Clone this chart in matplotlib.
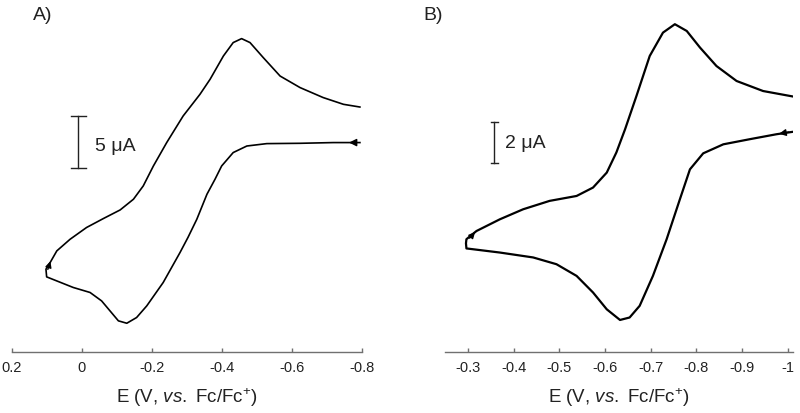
import matplotlib
matplotlib.use("Agg")
import matplotlib.pyplot as plt

plt.rcParams['font.family'] = ['Liberation Sans', 'DejaVu Sans']
plt.rcParams['axes.unicode_minus'] = False
plt.rcParams['mathtext.fontset'] = 'custom'
plt.rcParams['mathtext.rm'] = 'Liberation Sans'
plt.rcParams['mathtext.it'] = 'Liberation Sans:italic'

# panel A: potential (V vs Fc/Fc+) and current (uA, arbitrary offset)
# lower branch from the right end, then the upper branch back to the right
E_a = [-0.794, -0.718, -0.623, -0.528, -0.471, -0.432, -0.399, -0.380, -0.357, -0.328,
       -0.303, -0.280, -0.232, -0.185, -0.156, -0.128, -0.104, -0.080, -0.056, -0.023,
       0.025, 0.072, 0.101, 0.103,
       0.091, 0.072, 0.034, -0.013, -0.061, -0.109, -0.147, -0.175, -0.204, -0.242,
       -0.289, -0.337, -0.366, -0.404, -0.432, -0.456, -0.480, -0.518, -0.566, -0.623,
       -0.689, -0.747, -0.794]
I_a = [10.26, 10.26, 10.19, 10.16, 9.93, 9.30, 8.01, 6.73, 5.29, 2.88,
       1.15, -0.32, -3.20, -5.45, -6.57, -7.12, -6.89, -5.93, -4.97, -4.16,
       -3.68, -3.05, -2.66, -1.92,
       -1.28, -0.16, 0.96, 2.09, 2.95, 3.78, 4.81, 6.09, 8.01, 10.26,
       12.82, 14.90, 16.35, 18.59, 19.88, 20.26, 19.88, 18.43, 16.66, 15.55,
       14.59, 13.94, 13.68]

# panel B
E_b = [-1.011, -0.975, -0.917, -0.859, -0.815, -0.786, -0.764, -0.735, -0.705, -0.676,
       -0.654, -0.633, -0.604, -0.574, -0.538, -0.494, -0.443, -0.370, -0.297, -0.296,
       -0.297, -0.319, -0.370, -0.421, -0.479, -0.538, -0.574, -0.604, -0.625, -0.644,
       -0.669, -0.698, -0.727, -0.753, -0.779, -0.808, -0.844, -0.888, -0.946, -1.012]
I_b = [3.29, 3.17, 2.93, 2.68, 2.24, 1.46, 0.00, -1.95, -3.74, -5.20,
       -5.77, -5.89, -5.37, -4.55, -3.74, -3.17, -2.84, -2.60, -2.40, -2.15,
       -1.95, -1.55, -0.98, -0.49, -0.08, 0.16, 0.57, 1.30, 2.28, 3.41,
       5.04, 6.99, 8.13, 8.54, 8.21, 7.40, 6.50, 5.77, 5.28, 5.01]

ticks_a = [0.2, 0, -0.2, -0.4, -0.6, -0.8]
ticklabels_a = ['0.2', '0', '-0.2', '-0.4', '-0.6', '-0.8']
ticks_b = [-0.3, -0.4, -0.5, -0.6, -0.7, -0.8, -0.9, -1.0]
ticklabels_b = ['-0.3', '-0.4', '-0.5', '-0.6', '-0.7', '-0.8', '-0.9', '-1']

xlabel = r'E (V, $\mathit{vs.}$ Fc/Fc$^{+}$)'

fig = plt.figure(figsize=(8, 4.14), dpi=100)
axA = fig.add_axes([0.015, 0.147, 0.4375, 0.804])
axB = fig.add_axes([0.556, 0.147, 0.435, 0.804])


def style(ax):
    for s in ['top', 'right', 'left']:
        ax.spines[s].set_visible(False)
    ax.spines['bottom'].set_color('#707070')
    ax.spines['bottom'].set_linewidth(1.0)
    ax.set_yticks([])
    ax.tick_params(axis='x', direction='in', length=3, width=1, color='#707070',
                   labelsize=10.5, pad=6, labelcolor='#222222')
    ax.set_xlabel(xlabel, fontsize=13.5, labelpad=8, color='#222222')
    ax.patch.set_alpha(0)


# ---- A ----
axA.plot(E_a, I_a, color='black', lw=1.2, solid_joinstyle='round')
axA.set_xlim(0.2, -0.8)
axA.set_ylim(-9.90, 22.12)
axA.set_xticks(ticks_a)
axA.set_xticklabels(ticklabels_a)
style(axA)
# 5 uA scale bar
axA.plot([0.011, 0.011], [7.8, 12.8], color='#222222', lw=1)
axA.plot([0.032, -0.01], [7.8, 7.8], color='#222222', lw=1)
axA.plot([0.032, -0.01], [12.8, 12.8], color='#222222', lw=1)
axA.text(-0.037, 10.0, '5 μA', fontsize=14, va='center', ha='left', color='#222222')
# scan direction arrows
axA.annotate('', xy=(-0.755, 10.26), xytext=(-0.79, 10.26),
             arrowprops=dict(arrowstyle='-|>', color='black', lw=1, mutation_scale=11))
axA.annotate('', xy=(0.088, -0.9), xytext=(0.100, -2.2),
             arrowprops=dict(arrowstyle='-|>', color='black', lw=1, mutation_scale=9))

# ---- B ----
axB.plot(E_b, I_b, color='black', lw=1.6, solid_joinstyle='round')
axB.set_xlim(-0.2497, -1.011)
axB.set_ylim(-7.46, 8.78)
axB.set_xticks(ticks_b)
axB.set_xticklabels(ticklabels_b)
style(axB)
# 2 uA scale bar
axB.plot([-0.357, -0.357], [1.76, 3.76], color='#222222', lw=1)
axB.plot([-0.35, -0.365], [1.76, 1.76], color='#222222', lw=1)
axB.plot([-0.35, -0.365], [3.76, 3.76], color='#222222', lw=1)
axB.text(-0.382, 2.76, '2 μA', fontsize=14, va='center', ha='left', color='#222222')
axB.annotate('', xy=(-0.975, 3.17), xytext=(-1.008, 3.30),
             arrowprops=dict(arrowstyle='-|>', color='black', lw=1, mutation_scale=10))
axB.annotate('', xy=(-0.320, -1.50), xytext=(-0.300, -2.0),
             arrowprops=dict(arrowstyle='-|>', color='black', lw=1, mutation_scale=9))

# panel letters
fig.text(33 / 800, 1 - 15 / 414, 'A)', fontsize=14, va='center', ha='left', color='#222222')
fig.text(423 / 800, 1 - 15 / 414, 'B)', fontsize=14, va='center', ha='left', color='#222222')

fig.savefig('out.png', dpi=100)
